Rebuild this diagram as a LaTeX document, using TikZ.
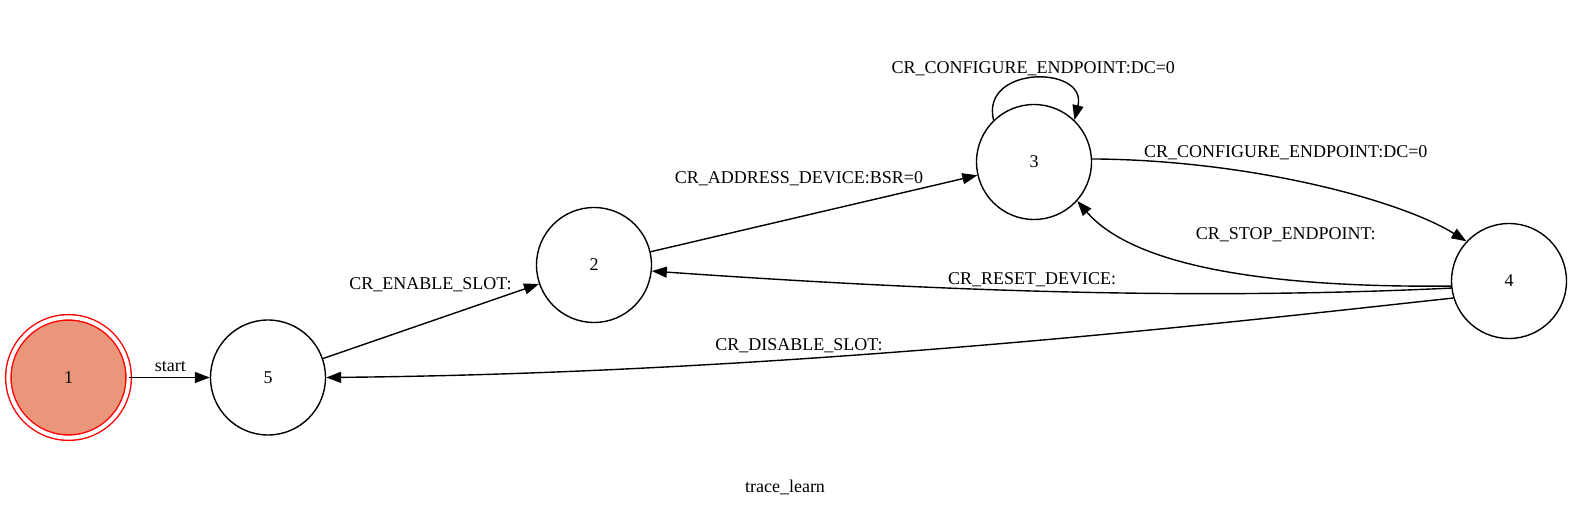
\documentclass[tikz,border=0pt]{standalone}
\usepackage{fontspec}
\setmainfont{Liberation Serif}
\usetikzlibrary{arrows.meta}
\definecolor{nodesalmon}{HTML}{E9967A}
\tikzset{
  state/.style={circle, draw=black, line width=1.4pt, minimum size=115pt, inner sep=0pt, font=\fontsize{18pt}{20pt}\selectfont},
  startstate/.style={circle, draw=red, fill=nodesalmon, line width=1.4pt, double=white, double distance=4pt, minimum size=120.3pt, inner sep=0pt, font=\fontsize{18pt}{20pt}\selectfont},
  edge/.style={line width=1.4pt, -{Triangle[length=15pt,width=11pt]}},
  lbl/.style={anchor=base, inner sep=0pt, font=\fontsize{18pt}{20pt}\selectfont}
}
\begin{document}
\begin{tikzpicture}[x=1pt,y=-1pt]
\useasboundingbox (0,0) rectangle (1572,510);
\node[startstate] (n1) at (68.5,377.5) {1};
\node[state] (n5) at (268,377.5) {5};
\node[state] (n2) at (594,265) {2};
\node[state] (n3) at (1034,162) {3};
\node[state] (n4) at (1509,281) {4};

\draw[edge] (n1) -- (n5);
\draw[edge] (n5) -- (n2);
\draw[edge] (n2) -- (n3);
\draw[edge] (n3.134) .. controls (980,65) and (1088,65) .. (n3.46);
\draw[edge] (n3.3) .. controls (1250,160) and (1400,200) .. (n4.137);
\draw[edge] (n4.185) .. controls (1250,288) and (1130,262) .. (n3.318);
\draw[edge] (n4.187) .. controls (1200,300) and (950,292) .. (n2.354);
\draw[edge] (n4.197) .. controls (1250,320) and (800,373) .. (n5.0);

\node[lbl] (lstart) at (170.4,371.7) {start};
\node[lbl] (lenable) at (430.5,290) {CR\_ENABLE\_SLOT:};
\node[lbl] (laddress) at (799,183.3) {CR\_ADDRESS\_DEVICE:BSR=0};
\node[lbl] (lloop) at (1033.3,73.3) {CR\_CONFIGURE\_ENDPOINT:DC=0};
\node[lbl] (lconf) at (1285.8,157.7) {CR\_CONFIGURE\_ENDPOINT:DC=0};
\node[lbl] (lstop) at (1285.8,239.3) {CR\_STOP\_ENDPOINT:};
\node[lbl] (lreset) at (1032,284.3) {CR\_RESET\_DEVICE:};
\node[lbl] (ldisable) at (799,350.7) {CR\_DISABLE\_SLOT:};
\node[lbl] (caption) at (785,493) {trace\_learn};
\end{tikzpicture}
\end{document}
